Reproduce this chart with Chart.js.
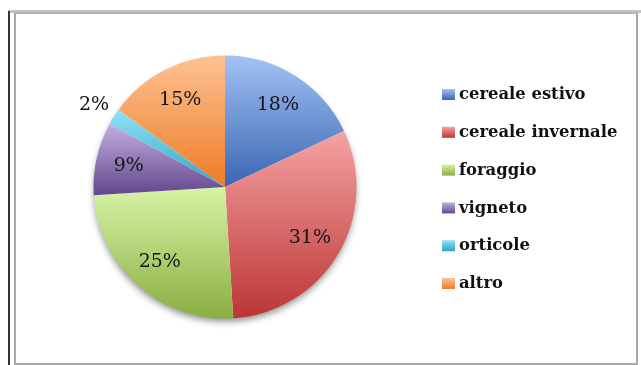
<!DOCTYPE html>
<html>
<head>
<meta charset="utf-8">
<script src="https://cdn.jsdelivr.net/npm/chart.js@4"></script>
<style>
  html, body { margin: 0; padding: 0; background: #fff; }
  #wrap { position: relative; width: 641px; height: 365px; overflow: hidden; }
  /* frame lines around the chart */
  .edge-dark { position: absolute; left: 8px; top: 11px; width: 2px; height: 354px; background: #333; }
  .edge-top { position: absolute; left: 8px; top: 10px; width: 633px; height: 3px; background: #c4c4c4; }
  .box { position: absolute; left: 14px; top: 12px; width: 620px; height: 349px;
         border: 2px solid #a8a8a8; border-top-color: #b4b4b4; }
  canvas { position: absolute; left: 0; top: 0; }
</style>
</head>
<body>
<div id="wrap">
  <div class="edge-top"></div>
  <div class="edge-dark"></div>
  <div class="box"></div>
  <canvas id="pie" width="641" height="365"></canvas>
</div>
<script>
// crop shares (%)
const categories = ['cereale estivo', 'cereale invernale', 'foraggio', 'vigneto', 'orticole', 'altro'];
const shares = [18, 31, 25, 9, 2, 15];
// light (top) and dark (bottom) shade for each slice
const lightShades = ['#a3c1f5', '#f5a3a3', '#d8f3a6', '#c3b0e0', '#93e2f6', '#fdc293'];
const darkShades = ['#3966b2', '#bc3535', '#8aaf42', '#63468c', '#2fa5c6', '#ef7b26'];

const SERIF = '"DejaVu Serif", "Liberation Serif", serif';

// vertical extent of an arc, used to spread the gradient over each slice
function arcSpan(arc) {
  const { x, y, outerRadius, startAngle, endAngle } = arc;
  let ys = [y, y + Math.sin(startAngle) * outerRadius, y + Math.sin(endAngle) * outerRadius];
  [Math.PI / 2, -Math.PI / 2, Math.PI * 1.5].forEach(a => {
    if (a > startAngle && a < endAngle) ys.push(y + Math.sin(a) * outerRadius);
  });
  return [Math.min(...ys), Math.max(...ys)];
}

const sliceShading = {
  id: 'sliceShading',
  beforeDatasetsDraw(chart) {
    const ctx = chart.ctx;
    const arcs = chart.getDatasetMeta(0).data;
    // soft shadow under the pie
    const a0 = arcs[0];
    ctx.save();
    ctx.beginPath();
    ctx.arc(a0.x, a0.y, a0.outerRadius - 1, 0, Math.PI * 2);
    ctx.shadowColor = 'rgba(0,0,0,0.45)';
    ctx.shadowBlur = 7;
    ctx.shadowOffsetY = 4;
    ctx.fillStyle = '#fff';
    ctx.fill();
    ctx.restore();
    arcs.forEach((arc, i) => {
      const [top, bottom] = arcSpan(arc);
      const g = ctx.createLinearGradient(0, top, 0, bottom);
      g.addColorStop(0, lightShades[i]);
      g.addColorStop(1, darkShades[i]);
      arc.options.backgroundColor = g;
    });
  }
};

const percentLabels = {
  id: 'percentLabels',
  afterDatasetsDraw(chart) {
    const ctx = chart.ctx;
    ctx.save();
    ctx.font = '19px ' + SERIF;
    ctx.fillStyle = '#141414';
    ctx.textAlign = 'center';
    ctx.textBaseline = 'middle';
    chart.getDatasetMeta(0).data.forEach((arc, i) => {
      const mid = (arc.startAngle + arc.endAngle) / 2;
      const r = arc.outerRadius * (shares[i] < 5 ? 1.18 : 0.75);
      ctx.fillText(shares[i] + '%', arc.x + Math.cos(mid) * r, arc.y + Math.sin(mid) * r + 1);
    });
    ctx.restore();
  }
};

const sideLegend = {
  id: 'sideLegend',
  afterDraw(chart) {
    const ctx = chart.ctx;
    ctx.save();
    ctx.font = 'bold 16.4px ' + SERIF;
    ctx.textBaseline = 'middle';
    categories.forEach((name, i) => {
      const y = 94 + i * 37.8;
      const g = ctx.createLinearGradient(0, y - 5, 0, y + 6);
      g.addColorStop(0, lightShades[i]);
      g.addColorStop(1, darkShades[i]);
      ctx.fillStyle = g;
      ctx.fillRect(442, y - 5, 13, 11);
      ctx.fillStyle = '#111';
      ctx.fillText(name, 459, y + 1);
    });
    ctx.restore();
  }
};

new Chart(document.getElementById('pie'), {
  type: 'pie',
  data: {
    labels: categories,
    datasets: [{
      data: shares,
      backgroundColor: darkShades,
      borderWidth: 0
    }]
  },
  options: {
    responsive: false,
    animation: false,
    layout: { padding: { left: 93.5, right: 284.5, top: 55.5, bottom: 46.5 } },
    plugins: {
      legend: { display: false },
      tooltip: { enabled: false }
    }
  },
  plugins: [sliceShading, percentLabels, sideLegend]
});
</script>
</body>
</html>
